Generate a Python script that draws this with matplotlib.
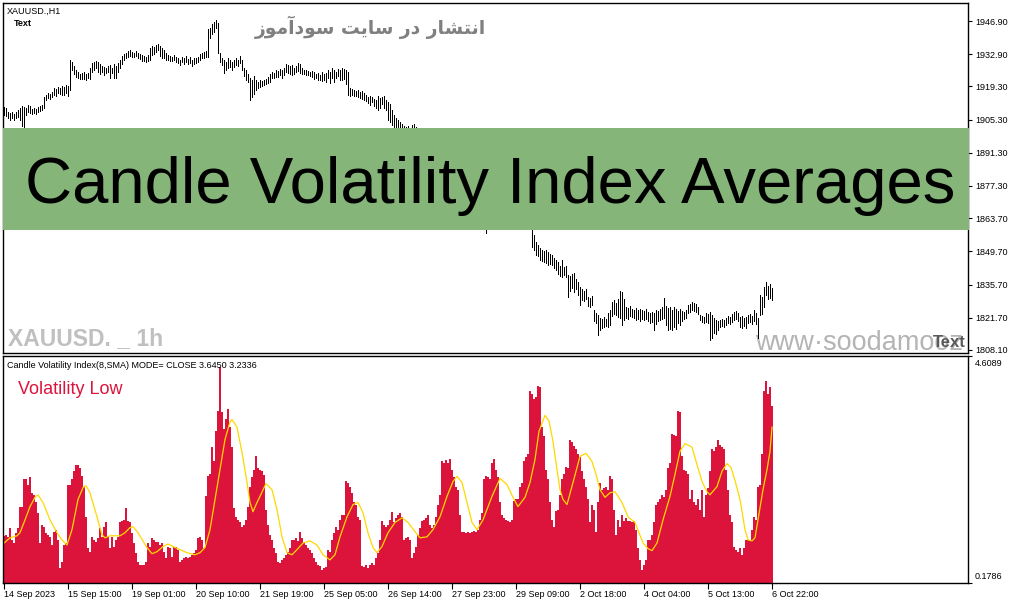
import numpy as np
import matplotlib
matplotlib.use('Agg')
import matplotlib.pyplot as plt
from matplotlib.patches import Rectangle

plt.rcParams['font.family'] = ['Liberation Sans', 'DejaVu Sans']

# XAUUSD H1 bars, 14 Sep - 6 Oct 2023 (high / low)
high = [
    1910.6, 1910.2, 1908.5, 1908.1, 1908.5, 1907.7, 1908.5, 1909.3, 1910.2, 1911.0,
    1910.6, 1910.2, 1911.5, 1911.0, 1909.8, 1910.2, 1909.8, 1910.6, 1911.0, 1911.5,
    1914.9, 1915.7, 1916.5, 1916.1, 1917.0, 1918.6, 1918.2, 1919.0, 1918.6, 1919.5,
    1919.0, 1919.9, 1919.5, 1930.4, 1929.6, 1927.9, 1926.2, 1925.4, 1924.5, 1924.9,
    1925.4, 1924.5, 1925.0, 1927.1, 1929.2, 1929.6, 1930.0, 1929.6, 1928.8, 1927.9,
    1927.5, 1927.1, 1927.9, 1928.3, 1927.1, 1928.8, 1927.9, 1929.2, 1930.4, 1932.1,
    1933.0, 1933.4, 1934.2, 1934.7, 1933.8, 1933.4, 1934.2, 1933.4, 1933.0, 1932.6,
    1932.1, 1931.7, 1932.6, 1935.5, 1936.4, 1936.0, 1936.8, 1937.2, 1936.4, 1935.5,
    1934.7, 1933.4, 1932.6, 1932.1, 1931.7, 1932.6, 1931.7, 1931.3, 1930.4, 1931.7,
    1931.3, 1932.1, 1930.9, 1931.7, 1930.4, 1931.3, 1931.3, 1931.7, 1933.0, 1933.4,
    1933.8, 1934.2, 1943.5, 1943.9, 1945.6, 1946.5, 1947.3, 1946.1, 1933.4, 1931.3,
    1930.4, 1929.6, 1931.3, 1930.4, 1929.6, 1930.4, 1931.3, 1930.4, 1932.1, 1930.4,
    1927.1, 1926.2, 1924.5, 1922.9, 1922.0, 1923.7, 1922.0, 1921.2, 1922.0, 1921.6,
    1922.0, 1922.4, 1923.3, 1924.5, 1925.4, 1925.0, 1926.2, 1925.8, 1926.6, 1926.2,
    1927.1, 1928.8, 1928.3, 1927.9, 1928.3, 1927.1, 1927.9, 1929.2, 1928.8, 1927.1,
    1926.2, 1926.2, 1925.8, 1925.4, 1925.8, 1925.4, 1924.5, 1925.0, 1924.1, 1925.4,
    1924.5, 1925.0, 1926.2, 1925.4, 1927.1, 1926.2, 1925.4, 1926.6, 1926.2, 1927.1,
    1926.6, 1926.2, 1925.4, 1918.6, 1918.2, 1917.8, 1917.4, 1917.8, 1917.0, 1917.4,
    1916.5, 1915.7, 1914.8, 1915.3, 1914.8, 1914.0, 1913.6, 1915.3, 1914.4, 1914.8,
    1915.3, 1913.6, 1912.7, 1911.9, 1909.3, 1907.2, 1906.0, 1905.1, 1904.3, 1903.5,
    1902.6, 1902.2, 1902.6, 1901.8, 1903.0, 1903.4, 1902.2, 1900.0, 1898.5, 1897.5,
    1896.0, 1894.5, 1893.0, 1892.0, 1891.0, 1889.0, 1888.0, 1887.5, 1886.0, 1884.0,
    1882.5, 1881.0, 1880.0, 1879.5, 1878.0, 1877.0, 1875.5, 1874.0, 1873.0, 1872.0,
    1871.0, 1870.0, 1869.5, 1868.0, 1867.5, 1866.5, 1866.0, 1865.0, 1864.5, 1864.0,
    1863.5, 1864.0, 1865.0, 1866.0, 1867.0, 1866.5, 1867.5, 1868.0, 1867.0, 1866.5,
    1867.0, 1866.0, 1866.5, 1865.5, 1866.0, 1865.0, 1864.5, 1865.0, 1864.0, 1863.5,
    1864.0, 1863.0, 1862.5, 1863.0, 1862.0, 1856.6, 1853.7, 1852.4, 1851.2, 1850.3,
    1849.9, 1850.3, 1849.5, 1848.6, 1848.2, 1846.9, 1846.1, 1845.2, 1843.5, 1846.1,
    1843.1, 1843.5, 1839.7, 1839.3, 1840.1, 1840.6, 1838.0, 1836.7, 1834.6, 1833.8,
    1833.0, 1833.8, 1830.5, 1830.0, 1830.9, 1825.0, 1823.7, 1822.9, 1821.6, 1821.2,
    1822.0, 1821.2, 1823.7, 1825.0, 1828.4, 1829.2, 1827.9, 1829.6, 1833.0, 1832.5,
    1829.6, 1826.3, 1825.8, 1826.7, 1825.4, 1825.0, 1825.8, 1825.0, 1825.4, 1825.0,
    1824.6, 1825.4, 1824.1, 1823.7, 1824.1, 1823.7, 1825.0, 1824.6, 1825.4, 1826.3,
    1829.9, 1826.7, 1825.8, 1826.3, 1825.0, 1826.3, 1825.4, 1824.6, 1825.4, 1824.6,
    1824.1, 1825.0, 1827.1, 1827.5, 1828.4, 1827.9, 1827.5, 1826.3, 1822.9, 1822.4,
    1822.0, 1823.7, 1823.3, 1824.1, 1822.9, 1821.6, 1820.7, 1820.3, 1820.7, 1821.2,
    1820.7, 1821.6, 1822.4, 1822.0, 1823.3, 1824.1, 1824.6, 1823.7, 1822.0, 1822.4,
    1821.6, 1822.0, 1822.9, 1823.3, 1822.4, 1825.0, 1823.7, 1821.6, 1831.3, 1830.5,
    1834.6, 1836.7, 1835.0, 1836.0, 1834.2,
]
low = [
    1907.2, 1906.8, 1906.0, 1905.1, 1906.0, 1905.1, 1906.0, 1906.4, 1905.1, 1902.6,
    1901.8, 1907.2, 1908.5, 1908.1, 1907.7, 1908.1, 1907.7, 1908.5, 1908.9, 1909.3,
    1910.2, 1913.6, 1914.4, 1914.0, 1914.9, 1915.7, 1915.3, 1916.5, 1916.1, 1915.7,
    1915.7, 1916.5, 1915.3, 1917.8, 1926.2, 1924.5, 1923.3, 1922.9, 1922.4, 1922.4,
    1922.4, 1922.0, 1922.9, 1922.4, 1925.4, 1926.2, 1927.1, 1925.4, 1924.5, 1925.4,
    1924.1, 1925.0, 1925.4, 1922.9, 1925.0, 1922.9, 1922.9, 1925.4, 1927.1, 1928.8,
    1930.4, 1931.3, 1931.7, 1932.1, 1931.7, 1931.7, 1932.1, 1931.3, 1930.9, 1930.0,
    1930.0, 1929.6, 1930.0, 1930.4, 1932.6, 1933.0, 1933.8, 1934.7, 1932.1, 1931.3,
    1931.3, 1930.4, 1930.4, 1930.0, 1930.0, 1930.4, 1929.6, 1929.2, 1928.3, 1929.6,
    1928.8, 1929.6, 1928.8, 1929.2, 1927.9, 1928.8, 1929.2, 1929.6, 1930.4, 1931.3,
    1931.3, 1931.7, 1931.7, 1939.7, 1941.4, 1942.3, 1944.0, 1933.4, 1929.6, 1928.3,
    1925.0, 1926.2, 1927.1, 1927.5, 1926.2, 1927.5, 1928.3, 1927.9, 1929.2, 1926.2,
    1923.7, 1922.0, 1921.2, 1913.6, 1914.8, 1916.1, 1917.8, 1918.6, 1919.0, 1919.5,
    1919.9, 1920.3, 1920.7, 1921.2, 1922.9, 1922.9, 1923.3, 1923.3, 1924.1, 1922.9,
    1924.1, 1925.4, 1925.0, 1924.5, 1924.1, 1924.5, 1925.4, 1925.8, 1925.0, 1924.5,
    1924.5, 1924.1, 1924.1, 1923.7, 1923.3, 1922.4, 1922.9, 1922.0, 1922.0, 1921.6,
    1922.0, 1921.2, 1922.9, 1920.7, 1922.9, 1921.2, 1922.9, 1923.7, 1922.0, 1922.0,
    1922.4, 1920.3, 1915.7, 1915.3, 1915.7, 1915.3, 1915.3, 1914.8, 1914.4, 1914.0,
    1913.6, 1913.1, 1912.3, 1911.5, 1912.7, 1911.0, 1910.2, 1909.3, 1910.2, 1911.9,
    1910.2, 1909.3, 1905.1, 1904.3, 1903.0, 1902.2, 1901.8, 1900.5, 1899.5, 1899.0,
    1897.0, 1896.5, 1897.5, 1896.0, 1897.0, 1897.8, 1896.5, 1894.0, 1893.0, 1891.5,
    1891.0, 1889.5, 1888.0, 1887.5, 1886.0, 1884.5, 1883.0, 1882.5, 1881.0, 1879.0,
    1877.5, 1876.5, 1875.0, 1874.0, 1873.0, 1872.0, 1870.5, 1869.5, 1868.0, 1867.0,
    1866.5, 1865.0, 1864.5, 1863.5, 1863.0, 1862.0, 1861.5, 1861.0, 1860.5, 1860.0,
    1860.0, 1857.4, 1860.5, 1861.0, 1862.0, 1862.0, 1862.5, 1863.0, 1862.5, 1862.0,
    1862.0, 1861.5, 1861.0, 1860.5, 1861.0, 1860.5, 1860.0, 1860.5, 1860.0, 1860.0,
    1860.0, 1859.5, 1859.5, 1860.0, 1851.5, 1850.3, 1848.2, 1847.8, 1846.1, 1845.7,
    1845.2, 1844.8, 1843.9, 1844.4, 1843.9, 1842.7, 1841.8, 1840.1, 1839.3, 1839.0,
    1839.7, 1838.8, 1830.5, 1833.0, 1834.2, 1832.5, 1833.8, 1831.3, 1827.1, 1829.2,
    1828.8, 1829.6, 1826.7, 1826.3, 1827.1, 1820.3, 1819.5, 1814.4, 1816.5, 1817.4,
    1817.8, 1818.2, 1817.8, 1818.6, 1822.4, 1823.3, 1822.9, 1822.0, 1821.6, 1818.6,
    1820.7, 1821.6, 1821.2, 1822.4, 1822.0, 1821.6, 1820.7, 1821.2, 1820.3, 1821.2,
    1820.7, 1821.2, 1820.3, 1819.5, 1819.9, 1816.5, 1819.1, 1820.3, 1820.7, 1821.2,
    1821.6, 1818.6, 1816.5, 1817.0, 1816.5, 1817.8, 1817.0, 1819.5, 1818.6, 1820.3,
    1821.2, 1821.6, 1823.7, 1824.1, 1825.0, 1824.6, 1824.1, 1823.3, 1820.7, 1819.9,
    1819.5, 1819.9, 1819.5, 1812.3, 1813.1, 1815.3, 1814.8, 1816.5, 1817.8, 1818.2,
    1817.8, 1818.6, 1819.5, 1819.1, 1819.9, 1820.7, 1821.2, 1820.3, 1817.8, 1817.4,
    1818.2, 1817.4, 1819.5, 1819.9, 1819.1, 1820.3, 1819.1, 1813.1, 1822.9, 1823.3,
    1826.3, 1831.3, 1829.6, 1830.0, 1829.2,
]

# Candle Volatility Index histogram, one value per bar
cvi = [
    1.10, 1.12, 1.08, 1.26, 1.02, 0.96, 1.16, 1.26, 1.67, 1.67,
    2.20, 2.20, 2.10, 2.24, 1.94, 1.90, 1.75, 1.55, 0.96, 1.32,
    1.28, 1.16, 1.12, 1.08, 0.92, 1.18, 1.22, 1.02, 0.47, 0.59,
    0.92, 0.96, 2.10, 2.10, 2.20, 2.36, 2.49, 2.49, 2.43, 2.26,
    2.06, 1.47, 0.87, 0.79, 1.08, 1.02, 0.98, 1.06, 1.26, 1.08,
    1.28, 1.36, 1.08, 0.87, 1.08, 0.89, 1.02, 1.08, 1.36, 1.38,
    1.41, 1.65, 1.38, 1.36, 1.16, 0.96, 0.77, 0.59, 0.53, 0.53,
    0.53, 0.59, 0.96, 0.89, 1.06, 1.02, 0.98, 0.98, 0.92, 0.96,
    0.79, 0.67, 0.89, 0.87, 0.69, 0.89, 0.89, 0.83, 0.59, 0.63,
    0.67, 0.69, 0.67, 0.69, 0.73, 0.77, 0.83, 1.06, 1.08, 1.02,
    0.87, 1.87, 2.26, 2.30, 2.83, 2.55, 3.14, 3.53, 4.39, 3.51,
    3.18, 3.37, 3.57, 3.22, 2.83, 1.65, 1.47, 1.41, 1.36, 1.28,
    1.32, 1.41, 1.67, 2.06, 2.24, 2.39, 2.65, 2.43, 2.39, 2.36,
    2.28, 1.61, 1.32, 1.12, 1.02, 0.87, 0.77, 0.59, 0.57, 0.63,
    0.67, 0.73, 0.79, 0.87, 1.02, 1.02, 1.06, 1.00, 1.18, 1.06,
    0.96, 0.92, 0.87, 0.83, 0.77, 0.67, 0.59, 0.53, 0.51, 0.43,
    0.47, 0.49, 0.83, 0.79, 1.02, 1.16, 1.28, 1.22, 1.41, 1.51,
    1.51, 2.16, 2.14, 2.06, 1.94, 1.75, 1.71, 1.47, 1.41, 0.51,
    0.49, 0.53, 0.47, 0.53, 0.57, 0.53, 0.67, 0.77, 1.02, 1.38,
    1.32, 1.28, 1.32, 1.41, 1.57, 1.36, 1.45, 1.51, 1.55, 1.47,
    1.02, 1.06, 1.08, 1.02, 0.67, 0.77, 0.89, 1.12, 1.26, 1.38,
    1.41, 1.45, 1.51, 1.32, 1.26, 1.32, 1.47, 1.71, 1.90, 2.55,
    2.53, 2.57, 2.53, 2.59, 2.39, 2.24, 2.06, 2.00, 1.51, 1.18,
    1.18, 1.16, 1.18, 1.16, 1.18, 1.20, 1.18, 1.22, 1.41, 1.55,
    2.20, 2.26, 2.24, 2.20, 2.53, 2.59, 2.39, 2.24, 1.75, 1.51,
    1.45, 1.41, 1.38, 1.36, 1.40, 1.77, 1.81, 1.81, 2.06, 2.14,
    2.55, 2.63, 2.69, 3.92, 3.86, 3.77, 3.81, 4.02, 4.00, 3.22,
    3.04, 2.39, 2.20, 1.75, 1.41, 1.28, 1.59, 1.61, 1.90, 2.20,
    2.30, 2.45, 2.43, 2.96, 2.94, 2.85, 2.79, 2.69, 2.63, 2.36,
    2.20, 2.06, 1.81, 1.36, 1.71, 1.61, 1.18, 1.75, 2.14, 2.00,
    2.04, 2.06, 2.00, 2.26, 2.20, 1.61, 1.12, 1.41, 1.28, 1.51,
    1.38, 1.45, 1.38, 1.38, 1.36, 1.38, 1.22, 0.87, 0.63, 0.43,
    0.53, 0.63, 1.02, 1.02, 1.12, 1.36, 1.71, 1.75, 1.81, 1.90,
    1.86, 2.00, 2.43, 2.53, 3.08, 3.06, 3.04, 3.53, 3.51, 2.65,
    2.39, 2.36, 2.30, 1.81, 2.00, 1.75, 1.71, 1.81, 1.61, 2.00,
    1.47, 1.90, 2.04, 2.36, 2.79, 2.75, 2.83, 2.96, 2.87, 2.83,
    2.79, 2.39, 2.00, 1.51, 1.36, 0.89, 0.83, 0.79, 0.87, 0.73,
    0.87, 1.02, 1.02, 1.02, 1.22, 1.47, 1.41, 2.06, 2.10, 2.69,
    3.92, 4.12, 3.86, 4.00, 3.63,
]

sma_bar = [0, 3, 6.5, 8, 10.5, 13, 15.5, 17, 19.5, 23, 26.5, 29, 31.5, 34, 37, 39.5,
           41, 43, 46.5, 49, 50.5, 53, 58, 60.5, 63, 64.5, 67, 71.5, 74, 76.5, 79.5,
           82, 84.5, 88, 91.5, 95.5, 98, 100.5, 103, 105.5, 108, 110.5, 113, 114,
           116.5, 119, 121.5, 123, 124.5, 126.5, 128, 131, 134, 136.5, 139, 141.5,
           144, 146.5, 149.5, 153, 156.5, 159.5, 163, 165.5, 168, 171.5, 174.5, 177,
           179.5, 182, 184.5, 186.5, 189, 192, 195.5, 199, 202, 205.5, 208, 211.5,
           214.5, 218, 221.5, 224.5, 226.5, 229, 231.5, 234, 236.5, 239.5, 244, 248,
           251.5, 254.5, 257, 260.5, 263, 265.5, 267.5, 270.5, 272.5, 274.5, 276.5,
           278, 279.5, 281.5, 284.5, 288, 291, 294, 296, 298, 300.5, 303, 305.5, 309,
           312, 315.5, 319.5, 322, 324, 326.5, 329.5, 333, 335.5, 338, 340.5, 344,
           346.5, 349, 351.5, 353, 356.5, 359, 361.5, 363.5, 365.5, 368, 370.5, 372,
           374, 375.5, 377, 379.5, 381.5, 383, 384]
sma_val = [0.96, 1.06, 1.10, 1.16, 1.41, 1.67, 1.85, 1.90, 1.75, 1.41, 1.16, 1.02, 0.92,
           1.22, 1.81, 2.04, 2.08, 1.94, 1.47, 1.12, 1.06, 1.10, 1.10, 1.16, 1.26, 1.28,
           1.16, 0.87, 0.75, 0.79, 0.89, 0.94, 0.89, 0.83, 0.77, 0.73, 0.77, 0.87, 1.22,
           1.81, 2.39, 2.98, 3.32, 3.37, 3.22, 2.73, 2.14, 1.75, 1.57, 1.75, 1.87, 2.12,
           2.00, 1.61, 1.08, 0.77, 0.73, 0.83, 0.96, 1.00, 0.92, 0.73, 0.63, 0.73, 1.08,
           1.47, 1.71, 1.75, 1.55, 1.16, 0.87, 0.77, 0.89, 1.16, 1.36, 1.45, 1.36, 1.18,
           1.06, 1.08, 1.22, 1.47, 1.87, 2.16, 2.26, 2.14, 1.75, 1.36, 1.22, 1.41, 1.87,
           2.22, 2.10, 1.85, 1.67, 1.85, 2.14, 2.59, 3.14, 3.45, 3.34, 2.94, 2.39, 2.00,
           1.81, 1.71, 2.14, 2.65, 2.71, 2.55, 2.30, 2.00, 1.85, 1.94, 1.96, 1.75, 1.47,
           1.36, 0.96, 0.85, 0.81, 0.96, 1.41, 1.87, 2.30, 2.75, 2.90, 2.83, 2.49, 2.16,
           1.96, 1.90, 2.06, 2.36, 2.51, 2.43, 2.18, 1.81, 1.22, 1.02, 1.00, 1.06, 1.41,
           2.00, 2.39, 2.75, 3.22]

price_ticks = [1946.90, 1932.90, 1919.30, 1905.30, 1891.30, 1877.30,
               1863.70, 1849.70, 1835.70, 1821.70, 1808.10]
date_labels = ['14 Sep 2023', '15 Sep 15:00', '19 Sep 01:00', '20 Sep 10:00',
               '21 Sep 19:00', '25 Sep 05:00', '26 Sep 14:00', '27 Sep 23:00',
               '29 Sep 09:00', '2 Oct 18:00', '4 Oct 04:00', '5 Oct 13:00',
               '6 Oct 22:00']

# "انتشار در سایت سودآموز" pre-shaped (presentation forms, visual order)
persian = ('\ufeaf\ufeee\ufee3\ufe81\ufea9\ufeee\ufeb3 \ufe96\ufbfe\ufe8e\ufeb3 '
           '\ufead\ufea9 \ufead\ufe8e\ufeb8\ufe98\ufee7\ufe8d')

W, H = 1015, 605


def fx(x):
    return x / W


def fy(y):
    return 1 - y / H


fig = plt.figure(figsize=(W / 100, H / 100), dpi=100)
ax1 = fig.add_axes([fx(3), fy(353), 965 / W, 350 / H])
ax2 = fig.add_axes([fx(3), fy(583), 965 / W, 227 / H], sharex=ax1)

# price panel
ax1.vlines(np.arange(len(high)), low, high, color='black', lw=0.72,
           antialiased=False)
ax1.set_xlim(-0.5, 482)
ax1.set_ylim(1806.8, 1954.5)
ax1.yaxis.tick_right()
ax1.set_yticks(price_ticks, [f'{p:.2f}' for p in price_ticks])
ax1.tick_params(axis='y', direction='out', length=3, width=0.8, pad=2,
                labelsize=6.5)
ax1.tick_params(axis='x', bottom=False, labelbottom=False)

# indicator panel
ax2.bar(np.arange(len(cvi)), cvi, width=1.0, color='#DC143C', linewidth=0,
        antialiased=False)
ax2.plot(sma_bar, sma_val, color='#FFD700', lw=0.9)
ax2.set_ylim(0.1786, 4.6089)
ax2.yaxis.tick_right()
ax2.set_yticks([0.1786, 4.6089], ['', ''])
ax2.tick_params(axis='y', direction='out', length=3, width=0.8)
ax2.set_xticks(np.arange(0, len(cvi), 32), date_labels)
ax2.tick_params(axis='x', direction='out', length=4, width=0.8, pad=1,
                labelsize=6.5)
for lab in ax2.get_xticklabels():
    lab.set_ha('left')

for ax in (ax1, ax2):
    for s in ax.spines.values():
        s.set_linewidth(1.0)

# texts on the price panel
fig.text(fx(7), fy(11), 'XAUUSD.,H1', fontsize=6.5, va='center')
fig.text(fx(14), fy(24), 'Text', fontsize=6.5, weight='bold', va='center')
fig.text(fx(255), fy(27), persian, family=['DejaVu Sans'], weight='bold',
         fontsize=13.5, color='#808080', va='center')
fig.text(fx(8), fy(345), 'XAUUSD. _ 1h', weight='bold',
         fontsize=16.5, color='#C0C0C0', va='baseline')
ax1.text(0.7793, 0.0086, 'www\u00b7soodamooz', transform=ax1.transAxes,
         fontsize=19.5, color='#B4B4B4', va='baseline', clip_on=True, zorder=1)
ax1.text(0.9637, 0.017, 'Text', transform=ax1.transAxes, fontsize=12,
         weight='bold', color='#5A5A5A', va='baseline', clip_on=True)

# green banner
ax1.add_patch(Rectangle((fx(3), fy(230)), 966 / W, 102 / H,
                        transform=fig.transFigure, facecolor='#86B57A',
                        edgecolor='none', zorder=5, clip_on=False))
fig.text(fx(490), fy(203), 'Candle Volatility Index Averages', fontsize=47,
         ha='center', va='baseline', zorder=6)

# texts on the indicator panel
fig.text(fx(7), fy(365),
         'Candle Volatility Index(8,SMA) MODE= CLOSE 3.6450 3.2336',
         fontsize=6.5, va='center')
fig.text(fx(18), fy(394), 'Volatility Low', fontsize=13, color='#DC143C',
         va='baseline')
fig.text(fx(975), fy(359), '4.6089', fontsize=6.5, va='top')
fig.text(fx(975), fy(581), '0.1786', fontsize=6.5, va='bottom')

fig.savefig('out.png', dpi=100)
